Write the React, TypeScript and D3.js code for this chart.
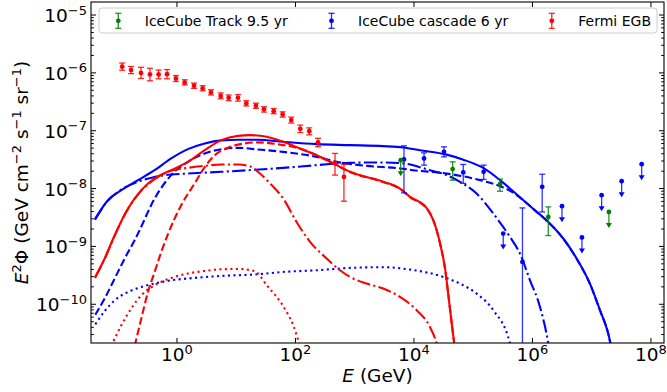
import * as d3 from 'd3';
import { useEffect, useRef } from 'react';

type Pt = [number, number];

// model curves: E (GeV), E^2 Phi (GeV cm^-2 s^-1 sr^-1)
const blueSolid: Pt[] = [
  [0.0413, 2.96e-9], [0.0684, 6.3e-9], [0.115, 9.4e-9], [0.22, 1.4e-8], [0.42, 2.08e-8],
  [0.8, 3.32e-8], [1.53, 4.8e-8], [2.94, 6.03e-8], [5.6, 6.8e-8], [10.7, 6.97e-8],
  [23.3, 6.97e-8], [62, 6.43e-8], [228, 5.86e-8], [832, 5.64e-8], [3030, 5.42e-8],
  [6600, 5.14e-8], [12600, 4.61e-8], [35600, 3.86e-8], [6.8e4, 3.16e-8], [1.5e5, 2.25e-8],
  [2.83e5, 1.4e-8], [6.15e5, 7.1e-9], [1.1e6, 4.23e-9], [1.85e6, 2.65e-9], [3.31e6, 1.37e-9],
  [5.57e6, 6.18e-10], [9.33e6, 2.28e-10], [1.38e7, 7.9e-11], [1.9e7, 3.11e-11], [2.11e7, 1.95e-11],
];
const blueDashed: Pt[] = [
  [0.0418, 6.6e-11], [0.0602, 1.26e-10], [0.0889, 2.79e-10], [0.131, 6.18e-10], [0.193, 1.28e-9],
  [0.22, 1.67e-9], [0.42, 6.74e-9], [0.8, 1.71e-8], [1.53, 2.9e-8], [2.94, 4.05e-8],
  [5.6, 4.8e-8], [10.7, 5.06e-8], [23.3, 4.74e-8], [61.5, 4.31e-8], [228, 3.53e-8],
  [496, 2.9e-8], [1590, 2.47e-8], [5800, 2.23e-8], [9600, 2.08e-8], [35600, 1.82e-8],
  [1.3e5, 1.4e-8], [2.83e5, 1.1e-8], [4.74e5, 8.5e-9], [7.47e5, 5.93e-9], [1.1e6, 4.2e-9],
  [1.85e6, 2.63e-9], [3.31e6, 1.36e-9], [5.57e6, 6.1e-10], [9.33e6, 2.25e-10], [1.38e7, 7.8e-11],
  [1.9e7, 3.1e-11], [2.11e7, 1.9e-11],
];
const blueDashDot: Pt[] = [
  [0.0413, 2.9e-9], [0.0684, 6.2e-9], [0.101, 8.77e-9], [0.22, 1.31e-8], [0.42, 1.59e-8],
  [0.8, 1.75e-8], [1.53, 1.82e-8], [5.6, 1.95e-8], [20.5, 2.11e-8], [61.5, 2.28e-8],
  [228, 2.54e-8], [832, 2.79e-8], [3030, 2.83e-8], [6600, 2.72e-8], [18600, 2.08e-8],
  [35600, 1.71e-8], [59700, 1.31e-8], [1.14e5, 8.2e-9], [2.18e5, 3.71e-9], [4.17e5, 1.46e-9],
  [6.15e5, 7.5e-10], [9.08e5, 2.6e-10], [1.34e6, 9.0e-11], [1.85e6, 2.1e-11], [1.95e6, 1.5e-11],
];
const blueDotted: Pt[] = [
  [0.0418, 4.5e-11], [0.0602, 7.6e-11], [0.0889, 1.17e-10], [0.149, 1.63e-10], [0.25, 1.99e-10],
  [0.42, 2.28e-10], [0.8, 2.6e-10], [1.53, 2.79e-10], [5.6, 3.09e-10], [23.3, 3.3e-10],
  [62, 3.62e-10], [228, 3.87e-10], [832, 4.25e-10], [3030, 4.37e-10], [8550, 3.98e-10],
  [31200, 2.97e-10], [59700, 2.28e-10], [1.14e5, 1.53e-10], [2.18e5, 7.9e-11], [4.17e5, 2.1e-11],
  [4.5e5, 1.5e-11],
];
const redSolid: Pt[] = [
  [0.0413, 2.9e-10], [0.0602, 6.18e-10], [0.0889, 1.56e-9], [0.149, 4.53e-9], [0.25, 9.4e-9],
  [0.42, 1.5e-8], [0.8, 2.08e-8], [1.53, 2.9e-8], [2.94, 4.61e-8], [5.6, 6.88e-8],
  [10.7, 8.16e-8], [17.1, 8.39e-8], [32.7, 7.84e-8], [62, 6.43e-8], [119, 4.94e-8],
  [228, 3.78e-8], [435, 2.72e-8], [832, 1.95e-8], [3030, 1.31e-8], [5800, 1.0e-8],
  [8550, 7.2e-9], [16400, 4.58e-9], [21200, 2.84e-9], [27500, 1.14e-9], [33400, 4.2e-10],
  [39000, 1.17e-10], [43800, 4.33e-11], [48300, 1.95e-11],
];
const redDashed: Pt[] = [
  [0.193, 1.9e-11], [0.25, 5.66e-11], [0.324, 1.63e-10], [0.42, 3.62e-10], [0.543, 8.03e-10],
  [0.705, 1.63e-9], [1.18, 5.16e-9], [1.99, 1.23e-8], [2.94, 2.35e-8], [4.33, 3.78e-8],
  [7.26, 5.06e-8], [13.9, 6.03e-8], [23.3, 6.28e-8], [62, 5.64e-8], [119, 4.9e-8],
  [228, 3.76e-8], [435, 2.71e-8], [832, 1.94e-8], [3030, 1.3e-8], [5800, 9.9e-9],
  [8550, 7.1e-9], [16400, 4.55e-9], [21200, 2.82e-9], [27500, 1.13e-9], [33400, 4.15e-10],
  [39000, 1.16e-10], [43800, 4.3e-11], [48300, 1.9e-11],
];
const redDashDot: Pt[] = [
  [0.0413, 2.85e-10], [0.0602, 6.1e-10], [0.0889, 1.54e-9], [0.149, 4.45e-9], [0.25, 9.2e-9],
  [0.42, 1.45e-8], [0.705, 1.95e-8], [1.53, 2.28e-8], [2.94, 2.47e-8], [5.6, 2.61e-8],
  [10.7, 2.61e-8], [17.9, 2.37e-8], [25.2, 1.82e-8], [37.2, 1.23e-8], [62, 6.74e-9],
  [105, 2.62e-9], [176, 1.2e-9], [336, 6.18e-10], [564, 3.87e-10], [832, 2.97e-10],
  [1590, 2.28e-10], [3030, 1.87e-10], [5800, 1.34e-10], [11100, 7.9e-11], [18600, 4.05e-11],
  [24200, 2.1e-11], [26000, 1.6e-11],
];
const redDotted: Pt[] = [
  [0.0778, 1.9e-11], [0.115, 4.33e-11], [0.169, 8.43e-11], [0.25, 1.43e-10], [0.42, 2.13e-10],
  [0.8, 2.85e-10], [1.53, 3.4e-10], [2.94, 3.77e-10], [5.6, 4.03e-10], [10.7, 4.08e-10],
  [17.9, 3.87e-10], [23.3, 3.4e-10], [32.7, 2.13e-10], [48.2, 1.34e-10], [71, 7.36e-11],
  [91.8, 4.33e-11], [119, 1.9e-11],
];

// Fermi EGB
const egbE = [0.119, 0.168, 0.247, 0.35, 0.49, 0.68, 0.96, 1.35, 1.94, 2.72, 3.75, 5.47, 7.46,
  10.7, 14.8, 21.5, 29.4, 42.9, 60.8, 84.9, 120.5, 171, 240, 465, 658];
const egbFlux = [1.28e-6, 1.12e-6, 1.0e-6, 9.4e-7, 9.4e-7, 9.5e-7, 8.0e-7, 6.85e-7, 6.0e-7, 5.4e-7,
  4.6e-7, 4.0e-7, 3.7e-7, 3.7e-7, 2.97e-7, 2.7e-7, 2.34e-7, 2.18e-7, 1.91e-7, 1.53e-7, 1.08e-7,
  9.8e-8, 6.3e-8, 2.75e-8, 1.59e-8];
const egbLo = [1.11e-6, 9.7e-7, 8.0e-7, 7.3e-7, 7.9e-7, 7.9e-7, 7.1e-7, 6.2e-7, 5.4e-7, 4.9e-7,
  4.15e-7, 3.57e-7, 3.3e-7, 3.25e-7, 2.68e-7, 2.43e-7, 2.1e-7, 1.97e-7, 1.72e-7, 1.36e-7, 9.3e-8,
  8.5e-8, 5.3e-8, 1.71e-8, 6.05e-9];
const egbHi = [1.48e-6, 1.29e-6, 1.25e-6, 1.2e-6, 1.12e-6, 1.14e-6, 9.0e-7, 7.6e-7, 6.65e-7, 6.0e-7,
  5.1e-7, 4.5e-7, 4.15e-7, 4.2e-7, 3.3e-7, 3.0e-7, 2.6e-7, 2.42e-7, 2.12e-7, 1.72e-7, 1.25e-7,
  1.12e-7, 7.4e-8, 4.05e-8, 2.61e-8];

// IceCube cascade 6 yr
const cascE = [6780, 14800, 32100, 67900, 1.5e5, 6.78e5, 1.46e6];
const cascFlux = [3.19e-8, 3.32e-8, 4.31e-8, 1.9e-8, 1.95e-8, 5.4e-10, 1.07e-8];
const cascLo = [8.43e-9, 2.54e-8, 3.53e-8, 1.23e-8, 1.44e-8, 1e-12, 3.95e-9];
const cascHi = [5.48e-8, 4.15e-8, 5.26e-8, 2.61e-8, 2.54e-8, 4.63e-9, 1.77e-8];
const cascUlE = [3.21e5, 3.15e6, 6.84e6, 1.47e7, 3.2e7, 6.97e7];
const cascUlFlux = [1.67e-9, 4.96e-9, 1.43e-9, 7.69e-9, 1.34e-8, 2.64e-8];

// IceCube Track 9.5 yr
const trackE = [45000, 2.83e5, 1.85e6];
const trackFlux = [2.17e-8, 1.19e-8, 3.24e-9];
const trackLo = [1.4e-8, 9.0e-9, 1.54e-9];
const trackHi = [2.9e-8, 1.46e-8, 4.82e-9];
const trackUlE = [5970, 1.95e7];
const trackUlFlux = [3.1e-8, 3.95e-9];

const xTicks = [1, 1e2, 1e4, 1e6, 1e8];
const yTicks = [1e-10, 1e-9, 1e-8, 1e-7, 1e-6, 1e-5];
const legendLabels = ['IceCube Track 9.5 yr', 'IceCube cascade 6 yr', 'Fermi EGB'];
const legendColors = ['green', 'blue', 'red'];

const FONT = 'DejaVu Sans, sans-serif';

const App = () => {
  const svgRef = useRef<SVGSVGElement>(null);

  useEffect(() => {
    const svg = d3.select(svgRef.current);
    svg.selectAll('*').remove();

    const width = 667;
    const height = 392;
    const margin = { top: 2, right: 3, bottom: 49, left: 91 };
    const x0 = margin.left;
    const x1 = width - margin.right;
    const y0 = margin.top;
    const y1 = height - margin.bottom;

    const x = d3.scaleLog().domain([0.0354, 1.66e8]).range([x0, x1]);
    const y = d3.scaleLog().domain([2.14e-11, 1.68e-5]).range([y1, y0]);

    svg.append('defs').append('clipPath').attr('id', 'plot-clip')
      .append('rect').attr('x', x0).attr('y', y0).attr('width', x1 - x0).attr('height', y1 - y0);

    const plot = svg.append('g').attr('clip-path', 'url(#plot-clip)');

    // Curves
    const line = d3.line<Pt>()
      .x((d) => x(d[0]))
      .y((d) => y(d[1]))
      .curve(d3.curveMonotoneX);

    const curves: [Pt[], string, string][] = [
      [blueDotted, 'blue', '2.1 3.4'],
      [blueDashDot, 'blue', '13.3 3.3 2.1 3.3'],
      [blueDashed, 'blue', '7.7 3.3'],
      [blueSolid, 'blue', ''],
      [redDotted, 'red', '2.1 3.4'],
      [redDashDot, 'red', '13.3 3.3 2.1 3.3'],
      [redDashed, 'red', '7.7 3.3'],
      [redSolid, 'red', ''],
    ];
    curves.forEach(([data, color, dash]) => {
      plot.append('path')
        .datum(data)
        .attr('fill', 'none')
        .attr('stroke', color)
        .attr('stroke-width', 2.1)
        .attr('stroke-dasharray', dash || null)
        .attr('d', line);
    });

    // Error bars
    const errorbars = (E: number[], F: number[], lo: number[], hi: number[], color: string, op: number) => {
      const g = plot.append('g');
      E.forEach((e, i) => {
        const cx = x(e);
        g.append('line')
          .attr('x1', cx).attr('x2', cx)
          .attr('y1', y(lo[i])).attr('y2', y(hi[i]))
          .attr('stroke', color).attr('stroke-width', 1.3).attr('opacity', op);
        [lo[i], hi[i]].forEach((v) => {
          g.append('line')
            .attr('x1', cx - 3).attr('x2', cx + 3)
            .attr('y1', y(v)).attr('y2', y(v))
            .attr('stroke', color).attr('stroke-width', 1.3).attr('opacity', op);
        });
        g.append('circle').attr('cx', cx).attr('cy', y(F[i])).attr('r', 2.4).attr('fill', color);
      });
    };

    const upperLimits = (E: number[], F: number[], color: string, op: number) => {
      const g = plot.append('g');
      E.forEach((e, i) => {
        const cx = x(e);
        const cy = y(F[i]);
        g.append('line')
          .attr('x1', cx).attr('x2', cx)
          .attr('y1', cy).attr('y2', cy + 12)
          .attr('stroke', color).attr('stroke-width', 1.3).attr('opacity', op);
        g.append('path')
          .attr('d', `M${cx - 3},${cy + 11} L${cx + 3},${cy + 11} L${cx},${cy + 16} Z`)
          .attr('fill', color);
        g.append('circle').attr('cx', cx).attr('cy', cy).attr('r', 2.4).attr('fill', color);
      });
    };

    errorbars(egbE, egbFlux, egbLo, egbHi, 'red', 0.85);
    errorbars(cascE, cascFlux, cascLo, cascHi, 'blue', 0.8);
    upperLimits(cascUlE, cascUlFlux, 'blue', 0.8);
    errorbars(trackE, trackFlux, trackLo, trackHi, 'green', 0.85);
    upperLimits(trackUlE, trackUlFlux, 'green', 0.85);

    // Spines
    svg.append('rect')
      .attr('x', x0).attr('y', y0).attr('width', x1 - x0).attr('height', y1 - y0)
      .attr('fill', 'none').attr('stroke', '#000').attr('stroke-width', 1.1);

    // Ticks (inward, all sides)
    const ticks = svg.append('g').attr('stroke', '#000').attr('stroke-width', 1);
    xTicks.forEach((t) => {
      const px = x(t);
      ticks.append('line').attr('x1', px).attr('x2', px).attr('y1', y1).attr('y2', y1 - 5);
      ticks.append('line').attr('x1', px).attr('x2', px).attr('y1', y0).attr('y2', y0 + 5);
    });
    yTicks.forEach((t) => {
      const py = y(t);
      ticks.append('line').attr('x1', x0).attr('x2', x0 + 5).attr('y1', py).attr('y2', py);
      ticks.append('line').attr('x1', x1).attr('x2', x1 - 5).attr('y1', py).attr('y2', py);
    });
    const minor: number[] = [];
    for (let e = -11; e <= -5; e++) {
      for (let k = 2; k <= 9; k++) {
        const v = k * Math.pow(10, e);
        if (v > 2.14e-11 && v < 1.68e-5) minor.push(v);
      }
    }
    minor.forEach((t) => {
      const py = y(t);
      ticks.append('line').attr('x1', x0).attr('x2', x0 + 2.8).attr('y1', py).attr('y2', py);
      ticks.append('line').attr('x1', x1).attr('x2', x1 - 2.8).attr('y1', py).attr('y2', py);
    });

    // Tick labels
    const expLabel = (sel: d3.Selection<SVGTextElement, unknown, null, undefined>, v: number) => {
      const p = Math.round(Math.log10(v));
      sel.append('tspan').text('10');
      sel.append('tspan')
        .attr('dy', -7.5)
        .attr('font-size', 13)
        .text(p < 0 ? `\u2212${-p}` : `${p}`);
    };
    xTicks.forEach((t) => {
      const txt = svg.append('text')
        .attr('x', x(t)).attr('y', y1 + 18)
        .attr('text-anchor', 'middle')
        .attr('font-family', FONT).attr('font-size', 18.5);
      expLabel(txt, t);
    });
    yTicks.forEach((t) => {
      const txt = svg.append('text')
        .attr('x', x0 - 4).attr('y', y(t) + 7)
        .attr('text-anchor', 'end')
        .attr('font-family', FONT).attr('font-size', 18.5);
      expLabel(txt, t);
    });

    // Axis labels
    const xl = svg.append('text')
      .attr('x', (x0 + x1) / 2).attr('y', 382)
      .attr('text-anchor', 'middle')
      .attr('font-family', FONT).attr('font-size', 18.5);
    xl.append('tspan').attr('font-style', 'italic').text('E');
    xl.append('tspan').text(' (GeV)');

    const yl = svg.append('text')
      .attr('transform', `translate(28,${(y0 + y1) / 2}) rotate(-90)`)
      .attr('text-anchor', 'middle')
      .attr('font-family', FONT).attr('font-size', 18.5);
    const parts: [string, boolean][] = [
      ['E', false], ['2', true], ['\u03A6 (GeV cm', false], ['\u22122', true],
      [' s', false], ['\u22121', true], [' sr', false], ['\u22121', true], [')', false],
    ];
    let raised = false;
    parts.forEach(([s, sup], i) => {
      const ts = yl.append('tspan').text(s);
      if (i === 0) ts.attr('font-style', 'italic');
      if (sup && !raised) { ts.attr('dy', -7.5).attr('font-size', 13); raised = true; }
      else if (sup) ts.attr('font-size', 13);
      else if (raised) { ts.attr('dy', 7.5); raised = false; }
    });

    // Legend
    const legend = svg.append('g');
    legend.append('rect')
      .attr('x', 99).attr('y', 8).attr('width', 558).attr('height', 25).attr('rx', 3)
      .attr('fill', 'white').attr('fill-opacity', 0.8)
      .attr('stroke', '#cccccc').attr('stroke-width', 1);
    const legendX = [118.3, 331.5, 551.8];
    legendLabels.forEach((label, i) => {
      const cx = legendX[i];
      const c = legendColors[i];
      legend.append('line').attr('x1', cx).attr('x2', cx).attr('y1', 13.3).attr('y2', 28.3)
        .attr('stroke', c).attr('stroke-width', 1.3).attr('opacity', 0.85);
      [13.3, 28.3].forEach((cy) => {
        legend.append('line').attr('x1', cx - 3).attr('x2', cx + 3).attr('y1', cy).attr('y2', cy)
          .attr('stroke', c).attr('stroke-width', 1.3).attr('opacity', 0.85);
      });
      legend.append('circle').attr('cx', cx).attr('cy', 20.8).attr('r', 2.4).attr('fill', c);
      legend.append('text')
        .attr('x', cx + 26.5).attr('y', 26)
        .attr('font-family', FONT).attr('font-size', 14)
        .text(label);
    });
  }, []);

  return (
    <svg
      ref={svgRef}
      width={667}
      height={392}
      style={{ position: 'absolute', left: 0, top: 0, background: 'white' }}
    />
  );
};

export default App;
